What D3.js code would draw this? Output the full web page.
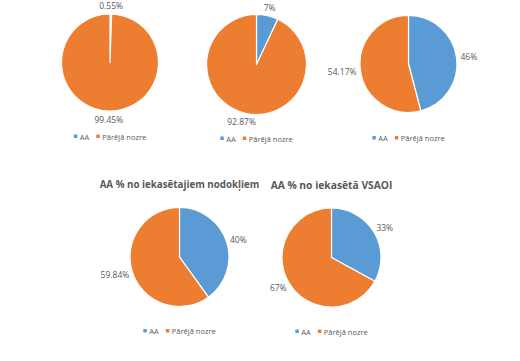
<!DOCTYPE html>
<html>
<head>
<meta charset="utf-8">
<script src="https://cdn.jsdelivr.net/npm/d3@7"></script>
<style>
  html, body { margin: 0; padding: 0; background: #fff; }
  svg { display: block; }
  text { font-family: "Open Sans", "Noto Sans", "DejaVu Sans", sans-serif; }
</style>
</head>
<body>
<svg id="chart" width="520" height="361"></svg>
<script>
// ---- data ----
const categories = ["AA", "Pārējā nozre"];
const chartTitles = ["", "", "", "AA % no iekasētajiem nodokļiem", "AA % no iekasētā VSAOI"];
const aaValues = [0.55, 7, 46, 40, 33];
const otherValues = [99.45, 92.87, 54.17, 59.84, 67];
const aaLabels = ["0.55%", "7%", "46%", "40%", "33%"];
const otherLabels = ["99.45%", "92.87%", "54.17%", "59.84%", "67%"];

// ---- layout (positions/styles) ----
const layout = [
  { cx: 110,   cy: 62.5,  r: 48.5, titleW: 0 },
  { cx: 256.5, cy: 64.5,  r: 50,   titleW: 0 },
  { cx: 408.5, cy: 64,    r: 48.5, titleW: 0 },
  { cx: 179.5, cy: 257,   r: 49.5, titleW: 160 },
  { cx: 331.5, cy: 257.5, r: 49.5, titleW: 122 }
];
const colors = d3.scaleOrdinal().domain(categories).range(["#5B9BD5", "#ED7D31"]);
const labelColor = "#595959";

const svg = d3.select("#chart");
const pie = d3.pie().sort(null).value(d => d.value);

layout.forEach((L, i) => {
  const data = [
    { cat: categories[0], value: aaValues[i], label: aaLabels[i] },
    { cat: categories[1], value: otherValues[i], label: otherLabels[i] }
  ];
  const g = svg.append("g").attr("transform", `translate(${L.cx},${L.cy})`);
  const arc = d3.arc().innerRadius(0).outerRadius(L.r);
  const arcs = pie(data);

  g.selectAll("path").data(arcs).join("path")
    .attr("d", arc)
    .attr("fill", d => colors(d.data.cat))
    .attr("stroke", "#fff")
    .attr("stroke-width", 1.2)
    .attr("stroke-linejoin", "round");

  // data labels outside end
  arcs.forEach(a => {
    const mid = (a.startAngle + a.endAngle) / 2;
    const R = L.r + 4;
    const t = g.append("text")
      .attr("font-size", 8.5)
      .attr("fill", labelColor)
      .attr("text-anchor", "middle")
      .attr("dominant-baseline", "central")
      .text(a.data.label);
    const w = t.node().getComputedTextLength();
    const h = 9;
    const x = Math.sin(mid) * R + Math.sin(mid) * w / 2;
    const y = -Math.cos(mid) * R - Math.cos(mid) * h / 2;
    t.attr("x", x).attr("y", y);
  });

  // title
  if (chartTitles[i]) {
    const tt = g.append("text")
      .attr("x", 0).attr("y", -73)
      .attr("text-anchor", "middle")
      .attr("dominant-baseline", "central")
      .attr("font-size", 12.5)
      .attr("font-weight", "bold")
      .attr("fill", "#595959")
      .text(chartTitles[i]);
    const nw = tt.node().getComputedTextLength();
    if (nw > L.titleW) tt.attr("font-size", 12.5 * L.titleW / nw);
  }

  // legend
  const lg = g.append("g");
  let xPos = 0;
  categories.forEach((c, k) => {
    const it = lg.append("g");
    it.append("rect").attr("x", 0).attr("y", -2).attr("width", 3.5).attr("height", 3.5)
      .attr("fill", colors(c));
    const tx = it.append("text").attr("x", 6).attr("y", 0)
      .attr("dominant-baseline", "central")
      .attr("font-size", 7.5).attr("fill", labelColor).text(c);
    const w = 6 + tx.node().getComputedTextLength();
    it.attr("transform", `translate(${xPos},0)`);
    xPos += w + (k < categories.length - 1 ? 7 : 0);
  });
  lg.attr("transform", `translate(${-xPos / 2},74)`);
});
</script>
</body>
</html>
